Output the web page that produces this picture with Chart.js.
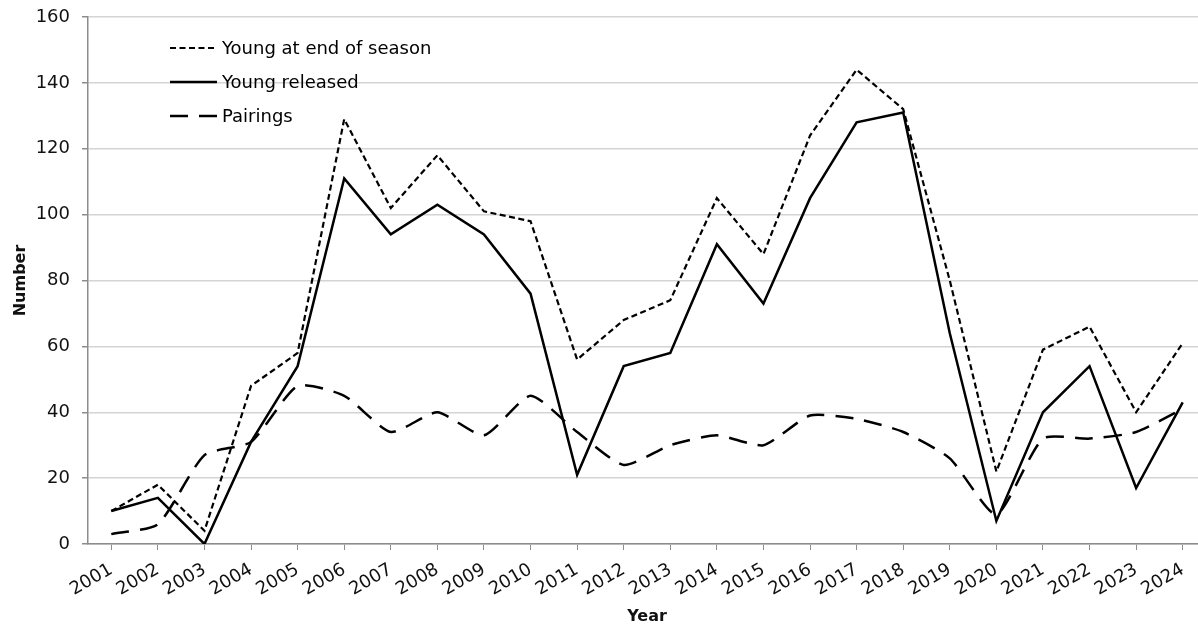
<!DOCTYPE html>
<html>
<head>
<meta charset="utf-8">
<script src="https://cdn.jsdelivr.net/npm/chart.js@4/dist/chart.umd.min.js"></script>
<style>
  html, body { margin: 0; padding: 0; background: #fff; overflow: hidden; }
  #wrap { width: 1206px; height: 627px; }
</style>
</head>
<body>
<div id="wrap"><canvas id="birdChart" width="1206" height="627"></canvas></div>
<script>
var years = ['2001', '2002', '2003', '2004', '2005', '2006', '2007', '2008', '2009', '2010', '2011', '2012',
    '2013', '2014', '2015', '2016', '2017', '2018', '2019', '2020', '2021', '2022', '2023', '2024'];
var youngEndSeason = [10, 18, 4, 48, 58, 129, 102, 118, 101, 98, 56, 68, 74, 105, 88, 124, 144, 132, 80, 22, 59, 66, 40, 61];
var youngReleased = [10, 14, 0, 31, 54, 111, 94, 103, 94, 76, 21, 54, 58, 91, 73, 105, 128, 131, 64, 7, 40, 54, 17, 43];
var pairings = [3, 6, 27, 31, 48, 45, 34, 40, 33, 45, 34, 24, 30, 33, 30, 39, 38, 34, 26, 9, 32, 32, 34, 41];
var yTicks = [0, 20, 40, 60, 80, 100, 120, 140, 160];

var fontFamily = "'DejaVu Sans', Verdana, sans-serif";

// legend drawn inside the plot, top left, like the original
var insideLegend = {
    id: 'insideLegend',
    afterDatasetsDraw: function (chart) {
        var c = chart.ctx;
        var rows = [48, 82, 116];
        c.save();
        chart.data.datasets.forEach(function (ds, i) {
            var y = rows[i];
            c.beginPath();
            c.strokeStyle = '#000';
            c.lineWidth = ds.borderWidth;
            c.setLineDash(ds.borderDash || []);
            c.moveTo(170, y);
            c.lineTo(217, y);
            c.stroke();
            c.setLineDash([]);
            c.fillStyle = '#000';
            c.font = '18px ' + fontFamily;
            c.textBaseline = 'middle';
            c.textAlign = 'left';
            c.fillText(ds.label, 222, y + 1);
        });
        c.restore();
    }
};

var ctx = document.getElementById('birdChart').getContext('2d');
var birdChart = new Chart(ctx, {
    type: 'line',
    data: {
        labels: years,
        datasets: [{
            label: 'Young at end of season',
            data: youngEndSeason,
            borderColor: '#000',
            borderWidth: 2.2,
            borderDash: [6, 3.5],
            pointRadius: 0,
            tension: 0
        }, {
            label: 'Young released',
            data: youngReleased,
            borderColor: '#000',
            borderWidth: 2.5,
            pointRadius: 0,
            tension: 0
        }, {
            label: 'Pairings',
            data: pairings,
            borderColor: '#000',
            borderWidth: 2.5,
            borderDash: [18, 11],
            pointRadius: 0,
            tension: 0.2
        }]
    },
    options: {
        responsive: false,
        animation: false,
        layout: { padding: { top: 17, left: 0, right: 0, bottom: 0 } },
        plugins: {
            legend: { display: false },
            tooltip: { enabled: false }
        },
        scales: {
            x: {
                offset: true,
                grid: {
                    offset: false,
                    drawOnChartArea: false,
                    drawTicks: true,
                    tickLength: 6,
                    tickColor: '#8c8c8c'
                },
                border: { color: '#8c8c8c', width: 1.5 },
                ticks: {
                    color: '#111',
                    font: { family: fontFamily, size: 18 },
                    minRotation: 30,
                    maxRotation: 30,
                    autoSkip: false,
                    padding: 9
                },
                title: {
                    display: true,
                    text: 'Year',
                    color: '#111',
                    font: { family: fontFamily, size: 16, weight: 'bold' },
                    padding: { top: 0, bottom: 1 }
                },
                afterFit: function (scale) {
                    scale.height = 83;
                    scale.paddingLeft = 0;
                    scale.paddingRight = 0;
                }
            },
            y: {
                min: 0,
                max: 160,
                afterBuildTicks: function (scale) {
                    scale.ticks = yTicks.map(function (v) { return { value: v }; });
                },
                grid: {
                    color: '#d4d4d4',
                    lineWidth: 1.5,
                    tickLength: 6,
                    tickColor: '#8c8c8c'
                },
                border: { color: '#8c8c8c', width: 1.5 },
                ticks: {
                    color: '#111',
                    font: { family: fontFamily, size: 18 },
                    padding: 12
                },
                title: {
                    display: true,
                    text: 'Number',
                    color: '#111',
                    font: { family: fontFamily, size: 16, weight: 'bold' },
                    padding: { top: 11, bottom: 0 }
                },
                afterFit: function (scale) {
                    scale.width = 88;
                    scale.paddingTop = 0;
                    scale.paddingBottom = 0;
                }
            }
        }
    },
    plugins: [insideLegend]
});
</script>
</body>
</html>
